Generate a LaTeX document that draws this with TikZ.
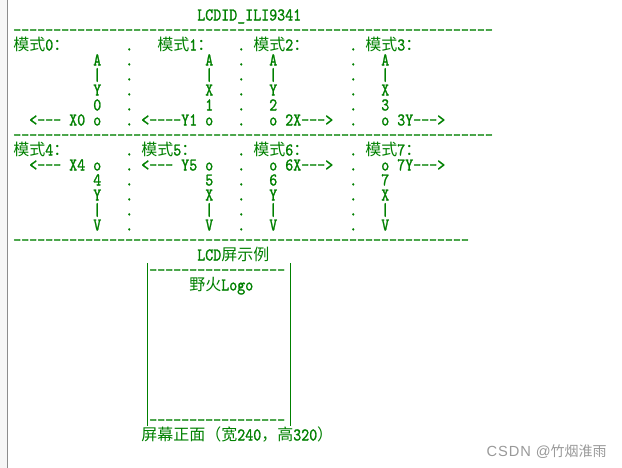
\documentclass[tikz,border=0pt]{standalone}
\usepackage{fontspec}
\setmonofont{lmmono10-regular.otf}[FakeStretch=0.846, FakeBold=1.2]
\newfontfamily\cjk{Noto Sans CJK SC}
\newfontfamily\marklatin{Liberation Sans}[LetterSpace=6]
\newcommand\zhtext[1]{{\cjk\fontsize{12}{12}\selectfont #1}}
\definecolor{asciigreen}{RGB}{0,128,0}
\tikzset{
  asc/.style={font=\ttfamily\fontsize{13.5}{13.5}\selectfont, text=asciigreen,
    anchor=base west, inner sep=0pt},
  boxside/.style={draw=asciigreen, line width=0.75pt}
}
\begin{document}
\begin{tikzpicture}[x=0.75pt,y=-0.75pt]
  \useasboundingbox (0,0) rectangle (622,468);
  % editor margin
  \fill[gray!7] (0,0) rectangle (7,468);
  \draw[gray!90, line width=0.75pt] (7.5,0) -- (7.5,468);

  % text grid: one unit = one character cell (8px x 15px)
  \begin{scope}[shift={(13,20.5)}, x=6pt, y=-11.25pt]
    \node[asc] (title) at (23,0) {LCDID\_ILI9341};
    \node[asc] (rule1) at (0,1) {------------------------------------------------------------};

    % modes 0-3
    \node[asc] (m0) at (0,2)  {\zhtext{模式}0\zhtext{：}};
    \node[asc] (m1) at (18,2) {\zhtext{模式}1\zhtext{：}};
    \node[asc] (m2) at (30,2) {\zhtext{模式}2\zhtext{：}};
    \node[asc] (m3) at (44,2) {\zhtext{模式}3\zhtext{：}};
    \foreach \c/\l [count=\i] in {10/Y,24/X,32/Y,46/X}{
      \node[asc] (up\i-a) at (\c,3) {A};
      \node[asc] (up\i-b) at (\c,4) {|};
      \node[asc] (up\i-c) at (\c,5) {\l};
    }
    \foreach \c/\n in {10/0,24/1,32/2,46/3}
      \node[asc] (num\n) at (\c,6) {\n};
    \node[asc] (o0) at (2,7)  {<--- X0 o};
    \node[asc] (o1) at (16,7) {<----Y1 o};
    \node[asc] (o2) at (32,7) {o 2X--->};
    \node[asc] (o3) at (46,7) {o 3Y--->};
    \node[asc] (rule2) at (0,8) {------------------------------------------------------------};

    % modes 4-7
    \node[asc] (m4) at (0,9)  {\zhtext{模式}4\zhtext{：}};
    \node[asc] (m5) at (16,9) {\zhtext{模式}5\zhtext{：}};
    \node[asc] (m6) at (30,9) {\zhtext{模式}6\zhtext{：}};
    \node[asc] (m7) at (44,9) {\zhtext{模式}7\zhtext{：}};
    \node[asc] (o4) at (2,10)  {<--- X4 o};
    \node[asc] (o5) at (16,10) {<--- Y5 o};
    \node[asc] (o6) at (32,10) {o 6X--->};
    \node[asc] (o7) at (46,10) {o 7Y--->};
    \foreach \c/\n/\l in {10/4/Y,24/5/X,32/6/Y,46/7/X}{
      \node[asc] (num\n) at (\c,11) {\n};
      \node[asc] (dn\n-a) at (\c,12) {\l};
      \node[asc] (dn\n-b) at (\c,13) {|};
      \node[asc] (dn\n-c) at (\c,14) {V};
    }
    % dotted separators
    \foreach \r in {2,...,7,9,10,...,14}
      \foreach \c in {14,28,42}
        \node[asc] (dot-\c-\r) at (\c,\r) {.};
    \node[asc] (rule3) at (0,15) {---------------------------------------------------------};

    % LCD example
    \node[asc] (lcd) at (23,16) {LCD\zhtext{屏示例}};
    \node[asc] (scrtop) at (17,17) {-----------------};
    \node[asc] (logo) at (22,18) {\zhtext{野火}Logo};
    \node[asc] (scrbot) at (17,27) {-----------------};
    \node[asc] (front) at (16,28) {\zhtext{屏幕正面（宽}240\zhtext{，高}320\zhtext{）}};
  \end{scope}

  % screen sides
  \coordinate (lt) at (147.5,263);
  \coordinate (lb) at (147.5,426);
  \coordinate (rt) at (290.5,263);
  \coordinate (rb) at (290.5,426);
  \draw[boxside] (lt) -- (lb);
  \draw[boxside] (rt) -- (rb);

  \node[anchor=east, inner sep=0pt, text=gray!80]
    (mark) at (607,452) {{\marklatin\fontsize{11}{11}\selectfont CSDN @}{\cjk\fontsize{10.5}{10.5}\selectfont 竹烟淮雨}};
\end{tikzpicture}
\end{document}
